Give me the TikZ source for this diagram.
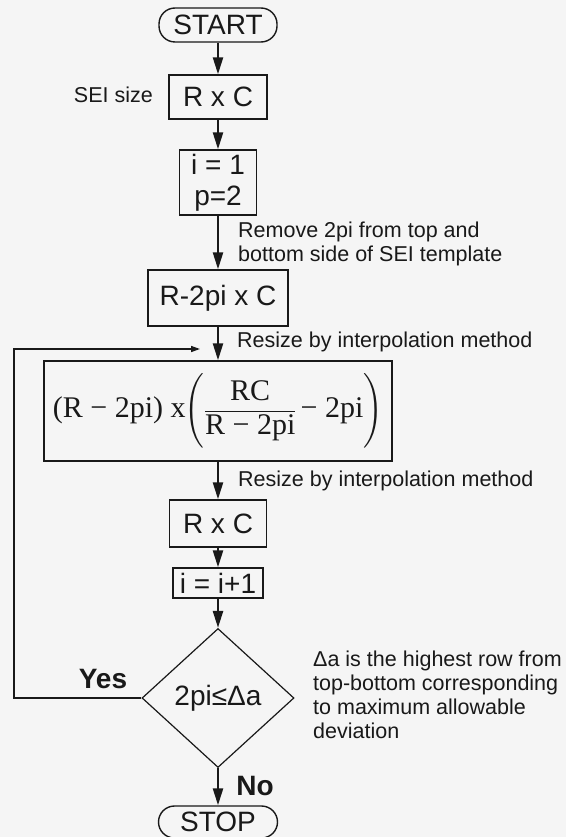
\documentclass[tikz,border=0pt]{standalone}
\usepackage{amsmath}
\usepackage{fontspec}
\setmainfont{Liberation Sans}
\newfontfamily\serifF{Liberation Serif}
\usetikzlibrary{arrows.meta,shapes.geometric}
\definecolor{bg}{RGB}{245,245,245}
\definecolor{ink}{RGB}{25,25,25}
\tikzset{
  box/.style={draw=ink, line width=1.4pt, font=\fontsize{28}{31}\selectfont, inner sep=2pt, align=center, text=ink},
  term/.style={box, rounded corners=16pt},
  arr/.style={draw=ink, line width=2.4pt, -{Triangle[length=17pt,width=10pt]}},
  looparr/.style={draw=ink, line width=1.5pt, -{Triangle[length=9pt,width=6pt]}},
  note/.style={font=\fontsize{21.5}{24}\selectfont, inner sep=0pt, align=left, text=ink},
  lbl/.style={font=\bfseries\fontsize{28}{31}\selectfont, inner sep=0pt, text=ink},
}
\begin{document}
\begin{tikzpicture}[x=1pt,y=-1pt]
\useasboundingbox (0,0) rectangle (566,837);
\fill[bg] (0,0) rectangle (566,837);

\node[term, minimum width=118pt, minimum height=34pt] (start) at (218,25) {START};
\node[box, minimum width=98pt, minimum height=44pt] (rc1) at (218,97) {R x C};
\node[note, anchor=base east] (sei) at (153,103) {SEI size};
\node[box, minimum width=77pt, minimum height=65pt] (init) at (218,182.5) {i = 1\\p=2};
\node[note, anchor=north west] (rem) at (238,222) {Remove 2pi from top and\\bottom side of SEI template};
\node[box, minimum width=140pt, minimum height=56pt] (rc2) at (218,298) {R-2pi x C};
\node[note, anchor=base west] (rs1) at (237,347) {Resize by interpolation method};
\node[box, minimum width=348pt, minimum height=100pt, inner sep=0pt, font=\serifF\fontsize{30}{36}\selectfont] (form) at (218,411)
  {$\text{(R − 2pi) x}\mkern-4mu\left(\rule[-27pt]{0pt}{66pt}\dfrac{\text{RC}}{\text{R − 2pi}}\,\text{− 2pi}\right)$};
\node[note, anchor=base west] (rs2) at (238,486) {Resize by interpolation method};
\node[box, minimum width=97pt, minimum height=47pt] (rc3) at (218,523.5) {R x C};
\node[box, minimum width=90pt, minimum height=30pt, inner sep=0pt] (inc) at (218,583) {i = i+1};
\node[draw=ink, line width=1.2pt, shape=diamond, minimum width=152pt, minimum height=139pt, inner sep=0pt, text=ink, font=\fontsize{28}{31}\selectfont] (dia) at (218,698) {2pi≤Δa};
\node[lbl, anchor=base] (yes) at (103,688) {Yes};
\node[lbl, anchor=base] (no) at (255,795) {No};
\node[term, minimum width=119pt, minimum height=32pt] (stop) at (218,822) {STOP};
\node[note, anchor=north west] (delta) at (313,651) {Δa is the highest row from\\top-bottom corresponding\\to maximum allowable\\deviation};

\coordinate (lb) at (14,698);
\coordinate (lt) at (14,349);
\coordinate (tip) at (200,349);

\draw[arr] (start) -- (rc1);
\draw[arr] (rc1) -- (init);
\draw[arr] (init) -- (rc2);
\draw[arr] (rc2) -- (form);
\draw[arr] (form) -- (rc3);
\draw[arr] (rc3) -- (inc);
\draw[arr] (inc) -- (dia);
\draw[arr] (dia) -- (stop);
\draw[looparr] (dia.west) -- (lb) -- (lt) -- (tip);
\end{tikzpicture}
\end{document}
